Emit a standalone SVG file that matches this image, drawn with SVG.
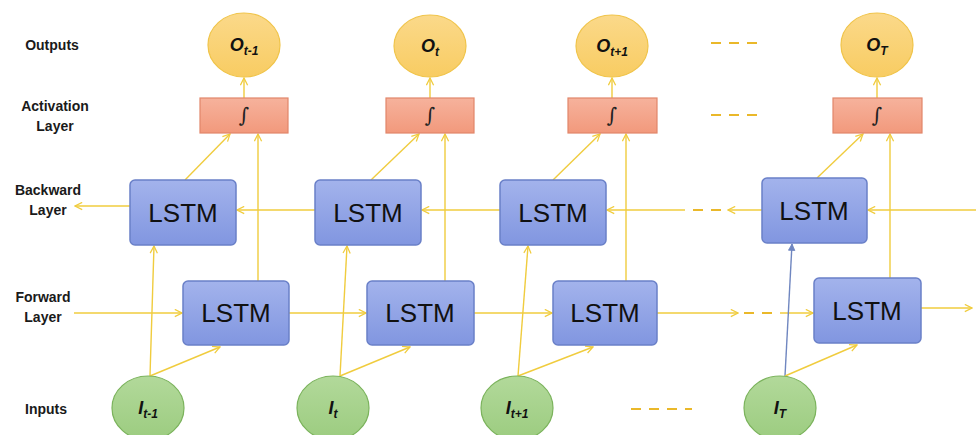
<svg xmlns="http://www.w3.org/2000/svg" width="976" height="435" viewBox="0 0 976 435">
<defs>
<linearGradient id="gO" x1="0" y1="0" x2="0" y2="1"><stop offset="0" stop-color="#fbd98a"/><stop offset="1" stop-color="#f8cc62"/></linearGradient>
<linearGradient id="gA" x1="0" y1="0" x2="0" y2="1"><stop offset="0" stop-color="#f6b29c"/><stop offset="1" stop-color="#f2997c"/></linearGradient>
<linearGradient id="gL" x1="0" y1="0" x2="0" y2="1"><stop offset="0" stop-color="#a3b3ec"/><stop offset="1" stop-color="#8196e0"/></linearGradient>
<linearGradient id="gI" x1="0" y1="0" x2="0" y2="1"><stop offset="0" stop-color="#b2d99a"/><stop offset="1" stop-color="#9ccc80"/></linearGradient>
<marker id="ay" viewBox="0 0 10 10" refX="9" refY="5" markerWidth="9" markerHeight="9" markerUnits="userSpaceOnUse" orient="auto">
<path d="M1,1 L9,5 L1,9" fill="none" stroke="#f0cc3e" stroke-width="1.4"/>
</marker>
<marker id="ab" viewBox="0 0 10 10" refX="9" refY="5" markerWidth="8" markerHeight="8" markerUnits="userSpaceOnUse" orient="auto">
<path d="M1,1 L9,5 L1,9 Z" fill="#6f86c0" stroke="#6f86c0"/>
</marker>
</defs>
<style>
.lbl{font-family:"Liberation Sans",Arial,sans-serif;font-weight:bold;font-size:14px;fill:#1a1a1a;text-anchor:middle}
.out{fill:url(#gO);stroke:#f0c44a;stroke-width:1.2}
.act{fill:url(#gA);stroke:#e2866a;stroke-width:1.2}
.lstm{fill:url(#gL);stroke:#6a80c8;stroke-width:1.5}
.inp{fill:url(#gI);stroke:#7bb35c;stroke-width:1.2}
.lt{font-family:"Liberation Sans",Arial,sans-serif;font-size:26px;fill:#111;text-anchor:middle}
.ct{font-family:"Liberation Sans",Arial,sans-serif;font-weight:bold;font-style:italic;font-size:18px;fill:#111;text-anchor:middle}
.sub{font-size:12px}
.int{font-family:"DejaVu Serif","Liberation Serif",serif;font-size:20px;fill:#222;text-anchor:middle}
.c{stroke:#f0cc3e;stroke-width:1.4;fill:none}
.ca{stroke:#f0cc3e;stroke-width:1.4;fill:none;marker-end:url(#ay)}
.dash{stroke:#eab82a;stroke-width:2.2;stroke-dasharray:10,8;fill:none}
</style>

<g id="labels">
<text class="lbl" x="52" y="50">Outputs</text>
<text class="lbl" x="55" y="111">Activation</text>
<text class="lbl" x="55" y="131">Layer</text>
<text class="lbl" x="48" y="195">Backward</text>
<text class="lbl" x="48" y="215">Layer</text>
<text class="lbl" x="43" y="302">Forward</text>
<text class="lbl" x="43" y="322">Layer</text>
<text class="lbl" x="46" y="414">Inputs</text>
</g>

<g id="connectors">
<line class="ca" x1="244" y1="98" x2="244" y2="78"/>
<line class="ca" x1="430" y1="98" x2="430" y2="78"/>
<line class="ca" x1="612" y1="98" x2="612" y2="78"/>
<line class="ca" x1="877" y1="98" x2="877" y2="78"/>
<line class="ca" x1="258" y1="281" x2="258" y2="134"/>
<line class="ca" x1="445" y1="281" x2="445" y2="134"/>
<line class="ca" x1="626" y1="281" x2="626" y2="134"/>
<line class="ca" x1="890" y1="278" x2="890" y2="134"/>
<line class="ca" x1="185" y1="180" x2="230" y2="134"/>
<line class="ca" x1="371" y1="180" x2="419" y2="134"/>
<line class="ca" x1="553" y1="180" x2="600" y2="134"/>
<line class="ca" x1="817" y1="178" x2="863" y2="134"/>
<line class="ca" x1="130" y1="206" x2="75" y2="206"/>
<line class="ca" x1="315" y1="210" x2="237" y2="210"/>
<line class="ca" x1="500" y1="210" x2="422" y2="210"/>
<line class="ca" x1="685" y1="210" x2="607" y2="210"/>
<line class="dash" x1="693" y1="210" x2="722" y2="210" stroke-dasharray="10,6"/>
<line class="ca" x1="762" y1="210" x2="728" y2="210"/>
<line class="ca" x1="976" y1="210" x2="868" y2="210"/>
<line class="ca" x1="74" y1="313" x2="182" y2="313"/>
<line class="ca" x1="289" y1="313" x2="366" y2="313"/>
<line class="ca" x1="474" y1="313" x2="552" y2="313"/>
<line class="ca" x1="657" y1="313" x2="738" y2="313"/>
<line class="dash" x1="744" y1="313" x2="772" y2="313" stroke-dasharray="9,7"/>
<line class="ca" x1="780" y1="313" x2="813" y2="313"/>
<line class="ca" x1="921" y1="308" x2="972" y2="308"/>
<line class="ca" x1="150" y1="376" x2="154" y2="246"/>
<line class="ca" x1="340" y1="376" x2="347" y2="246"/>
<line class="ca" x1="518" y1="376" x2="528" y2="246"/>
<line x1="785" y1="376" x2="792" y2="244" stroke="#6f86c0" stroke-width="1.4" marker-end="url(#ab)"/>
<line class="ca" x1="150" y1="376" x2="220" y2="347"/>
<line class="ca" x1="340" y1="376" x2="410" y2="347"/>
<line class="ca" x1="518" y1="376" x2="593" y2="347"/>
<line class="ca" x1="785" y1="376" x2="857" y2="345"/>
<line class="dash" x1="711" y1="43" x2="763" y2="43"/>
<line class="dash" x1="711" y1="115" x2="763" y2="115"/>
<line class="dash" x1="631" y1="409" x2="692" y2="409"/>
</g>

<g id="out1"><ellipse class="out" cx="244" cy="45" rx="36" ry="32"/><text class="ct" x="244" y="51">O<tspan class="sub" dy="4">t-1</tspan></text></g>
<g id="out2"><ellipse class="out" cx="430" cy="46" rx="36" ry="31"/><text class="ct" x="430" y="52">O<tspan class="sub" dy="4">t</tspan></text></g>
<g id="out3"><ellipse class="out" cx="612" cy="46" rx="36" ry="31"/><text class="ct" x="612" y="52">O<tspan class="sub" dy="4">t+1</tspan></text></g>
<g id="out4"><ellipse class="out" cx="877" cy="45" rx="36" ry="32"/><text class="ct" x="877" y="51">O<tspan class="sub" dy="4">T</tspan></text></g>

<g id="act1"><rect class="act" x="200" y="98" width="88" height="35"/><text class="int" x="244" y="122">∫</text></g>
<g id="act2"><rect class="act" x="386" y="98" width="88" height="35"/><text class="int" x="430" y="122">∫</text></g>
<g id="act3"><rect class="act" x="568" y="98" width="89" height="35"/><text class="int" x="612" y="122">∫</text></g>
<g id="act4"><rect class="act" x="833" y="98" width="89" height="35"/><text class="int" x="877" y="122">∫</text></g>

<g id="bw1"><rect class="lstm" x="130" y="180" width="106" height="65" rx="5"/><text class="lt" x="183" y="222">LSTM</text></g>
<g id="bw2"><rect class="lstm" x="315" y="180" width="106" height="65" rx="5"/><text class="lt" x="368" y="222">LSTM</text></g>
<g id="bw3"><rect class="lstm" x="500" y="180" width="106" height="65" rx="5"/><text class="lt" x="553" y="222">LSTM</text></g>
<g id="bw4"><rect class="lstm" x="762" y="178" width="105" height="65" rx="5"/><text class="lt" x="814" y="220">LSTM</text></g>

<g id="fw1"><rect class="lstm" x="183" y="281" width="106" height="64" rx="5"/><text class="lt" x="236" y="322">LSTM</text></g>
<g id="fw2"><rect class="lstm" x="367" y="281" width="107" height="64" rx="5"/><text class="lt" x="420" y="322">LSTM</text></g>
<g id="fw3"><rect class="lstm" x="553" y="281" width="104" height="64" rx="5"/><text class="lt" x="605" y="322">LSTM</text></g>
<g id="fw4"><rect class="lstm" x="814" y="278" width="107" height="65" rx="5"/><text class="lt" x="867" y="320">LSTM</text></g>

<g id="in1"><ellipse class="inp" cx="148" cy="408" rx="36" ry="32"/><text class="ct" x="148" y="414">I<tspan class="sub" dy="4">t-1</tspan></text></g>
<g id="in2"><ellipse class="inp" cx="333" cy="408" rx="36" ry="32"/><text class="ct" x="333" y="414">I<tspan class="sub" dy="4">t</tspan></text></g>
<g id="in3"><ellipse class="inp" cx="517" cy="408" rx="36" ry="32"/><text class="ct" x="517" y="414">I<tspan class="sub" dy="4">t+1</tspan></text></g>
<g id="in4"><ellipse class="inp" cx="780" cy="408" rx="36" ry="32"/><text class="ct" x="780" y="414">I<tspan class="sub" dy="4">T</tspan></text></g>
</svg>
